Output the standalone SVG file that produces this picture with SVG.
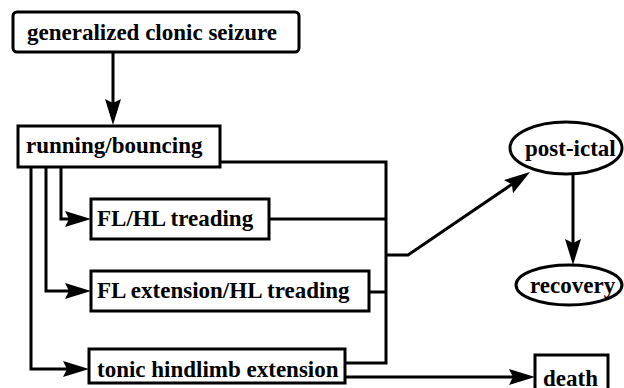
<svg xmlns="http://www.w3.org/2000/svg" width="624" height="388" viewBox="0 0 624 388">
<defs>
<marker id="ah" markerUnits="userSpaceOnUse" markerWidth="28" markerHeight="16" refX="18" refY="8" orient="auto" overflow="visible">
<path d="M0,0 L26,8 L0,16 L4,8 z" fill="#000"/>
</marker>
</defs>
<g id="connectors" fill="none" stroke="#000" stroke-width="3">
<path marker-end="url(#ah)" d="M113,52 L113,117"/>
<path marker-end="url(#ah)" d="M31,167 L31,369 L81,369"/>
<path marker-end="url(#ah)" d="M46,167 L46,291 L83,291"/>
<path marker-end="url(#ah)" d="M61,167 L61,219 L83,219"/>
<path d="M220,162 L386,162 L386,363 L345,363"/>
<path d="M269,219 L386,219"/>
<path d="M369,292 L386,292"/>
<path marker-end="url(#ah)" d="M386,255 L408,255 L523.4,176.5"/>
<path marker-end="url(#ah)" d="M345,377 L527,377"/>
<path marker-end="url(#ah)" d="M573,174 L573,257"/>
</g>
<g id="nodes">
<g id="gcs">
<rect x="13" y="12" width="286" height="40" rx="4" fill="#fff" stroke="#000" stroke-width="3"/>
<text x="27" y="40" font-family="Liberation Serif" font-weight="bold" font-size="23">generalized clonic seizure</text>
</g>
<g id="running">
<rect x="18" y="126" width="202" height="41" fill="#fff" stroke="#000" stroke-width="3"/>
<text x="26" y="153" font-family="Liberation Serif" font-weight="bold" font-size="23">running/bouncing</text>
</g>
<g id="flhl">
<rect x="91" y="199" width="178" height="40" fill="#fff" stroke="#000" stroke-width="3"/>
<text x="97" y="226" font-family="Liberation Serif" font-weight="bold" font-size="23">FL/HL treading</text>
</g>
<g id="flext">
<rect x="91" y="271" width="278" height="40" fill="#fff" stroke="#000" stroke-width="3"/>
<text x="97" y="298" font-family="Liberation Serif" font-weight="bold" font-size="23">FL extension/HL treading</text>
</g>
<g id="tonic">
<rect x="89" y="349" width="256" height="34" fill="#fff" stroke="#000" stroke-width="3"/>
<text x="97" y="377" font-family="Liberation Serif" font-weight="bold" font-size="23">tonic hindlimb extension</text>
</g>
<g id="death">
<rect x="535" y="355" width="73" height="42" fill="#fff" stroke="#000" stroke-width="3"/>
<text x="543" y="386" font-family="Liberation Serif" font-weight="bold" font-size="23">death</text>
</g>
<g id="postictal">
<ellipse cx="566" cy="148" rx="56" ry="26" fill="#fff" stroke="#000" stroke-width="3"/>
<text x="525" y="156" font-family="Liberation Serif" font-weight="bold" font-size="23">post-ictal</text>
</g>
<g id="recovery">
<ellipse cx="569" cy="285" rx="53" ry="20" fill="#fff" stroke="#000" stroke-width="3"/>
<text x="530" y="293" font-family="Liberation Serif" font-weight="bold" font-size="23">recovery</text>
</g>
</g>
</svg>
